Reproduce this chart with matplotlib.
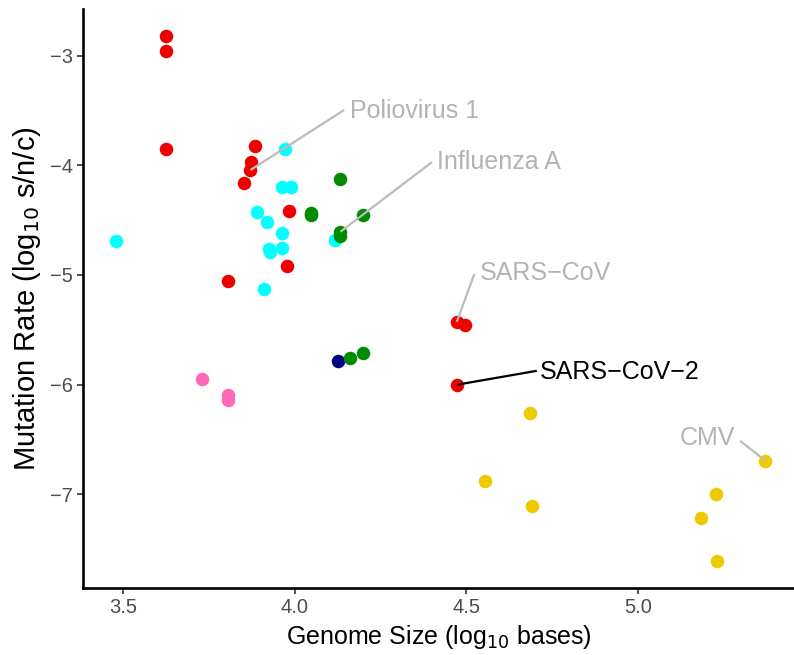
import matplotlib
matplotlib.use("Agg")
import matplotlib.pyplot as plt

plt.rcParams['font.family'] = ['Liberation Sans', 'DejaVu Sans']

# genome size (log10 bases) and mutation rate (log10 s/n/c) per virus group
cyan_x = [3.480, 3.972, 3.962, 3.989, 3.891, 3.920, 3.962, 3.924, 3.929, 3.963, 3.911, 4.118]
cyan_y = [-4.693, -3.851, -4.198, -4.198, -4.429, -4.520, -4.615, -4.761, -4.794, -4.757, -5.131, -4.680]

pink_x = [3.731, 3.806, 3.806]
pink_y = [-5.953, -6.096, -6.140]

navy_x = [4.127]
navy_y = [-5.788]

red_x = [3.626, 3.626, 3.626, 3.883, 3.874, 3.871, 3.852, 3.983, 3.977, 3.806, 4.472, 4.497, 4.474]
red_y = [-2.820, -2.960, -3.850, -3.824, -3.970, -4.043, -4.159, -4.417, -4.919, -5.056, -5.427, -5.457, -6.000]

green_x = [4.133, 4.048, 4.048, 4.200, 4.133, 4.133, 4.160, 4.200]
green_y = [-4.128, -4.432, -4.453, -4.453, -4.606, -4.645, -5.761, -5.715]

yellow_x = [4.686, 4.555, 4.691, 5.371, 5.227, 5.182, 5.229]
yellow_y = [-6.263, -6.878, -7.109, -6.695, -7.002, -7.221, -7.613]

groups = [
    (cyan_x, cyan_y, '#00FFFF'),
    (pink_x, pink_y, '#FF69B4'),
    (navy_x, navy_y, '#000080'),
    (red_x, red_y, '#EE0000'),
    (green_x, green_y, '#008B00'),
    (yellow_x, yellow_y, '#EEC900'),
]

# labelled viruses: name, point, label anchor, segment start, colour, alignment
labels = [
    ("Poliovirus 1", (3.871, -4.043), (4.162, -3.505), (4.144, -3.495), '#B3B3B3', 'left'),
    ("Influenza A", (4.133, -4.606), (4.415, -3.970), (4.400, -3.970), '#B3B3B3', 'left'),
    ("SARS\u2212CoV", (4.472, -5.427), (4.538, -4.980), (4.523, -4.992), '#B3B3B3', 'left'),
    ("SARS\u2212CoV\u22122", (4.474, -6.000), (4.715, -5.883), (4.705, -5.874), '#000000', 'left'),
    ("CMV", (5.371, -6.695), (5.283, -6.488), (5.297, -6.513), '#B3B3B3', 'right'),
]

fig = plt.figure(figsize=(7.94, 6.55), dpi=100)
ax = fig.add_axes([83 / 794, 1 - 588 / 655, (794 - 83) / 794, (588 - 9) / 655])

for xs, ys, c in groups:
    ax.scatter(xs, ys, s=95, color=c, linewidths=0, zorder=2)

for name, pt, txt, seg, col, ha in labels:
    lc = '#BBBBBB' if col != '#000000' else '#000000'
    ax.plot([seg[0], pt[0]], [seg[1], pt[1]], color=lc, lw=1.6, zorder=3,
            solid_capstyle='butt')
    ax.text(txt[0], txt[1], name, color=col, fontsize=18, ha=ha, va='center', zorder=4)

ax.set_xlim(3.3835, 5.454)
ax.set_ylim(-7.855, -2.574)
ax.set_xticks([3.5, 4.0, 4.5, 5.0])
ax.set_xticklabels(['3.5', '4.0', '4.5', '5.0'])
ax.set_yticks([-7, -6, -5, -4, -3])
ax.set_yticklabels(['\u22127', '\u22126', '\u22125', '\u22124', '\u22123'])

for side in ['top', 'right']:
    ax.spines[side].set_visible(False)
for side in ['left', 'bottom']:
    ax.spines[side].set_linewidth(1.9)
ax.tick_params(axis='both', length=4.5, width=1.2, labelsize=14.5, labelcolor='#4D4D4D',
               color='#333333', pad=3)

ax.set_xlabel('Genome Size (log$_{10}$ bases)', fontsize=18, labelpad=4)
ax.set_ylabel('Mutation Rate (log$_{10}$ s/n/c)', fontsize=21, labelpad=5)

fig.savefig('out.png', dpi=100)
